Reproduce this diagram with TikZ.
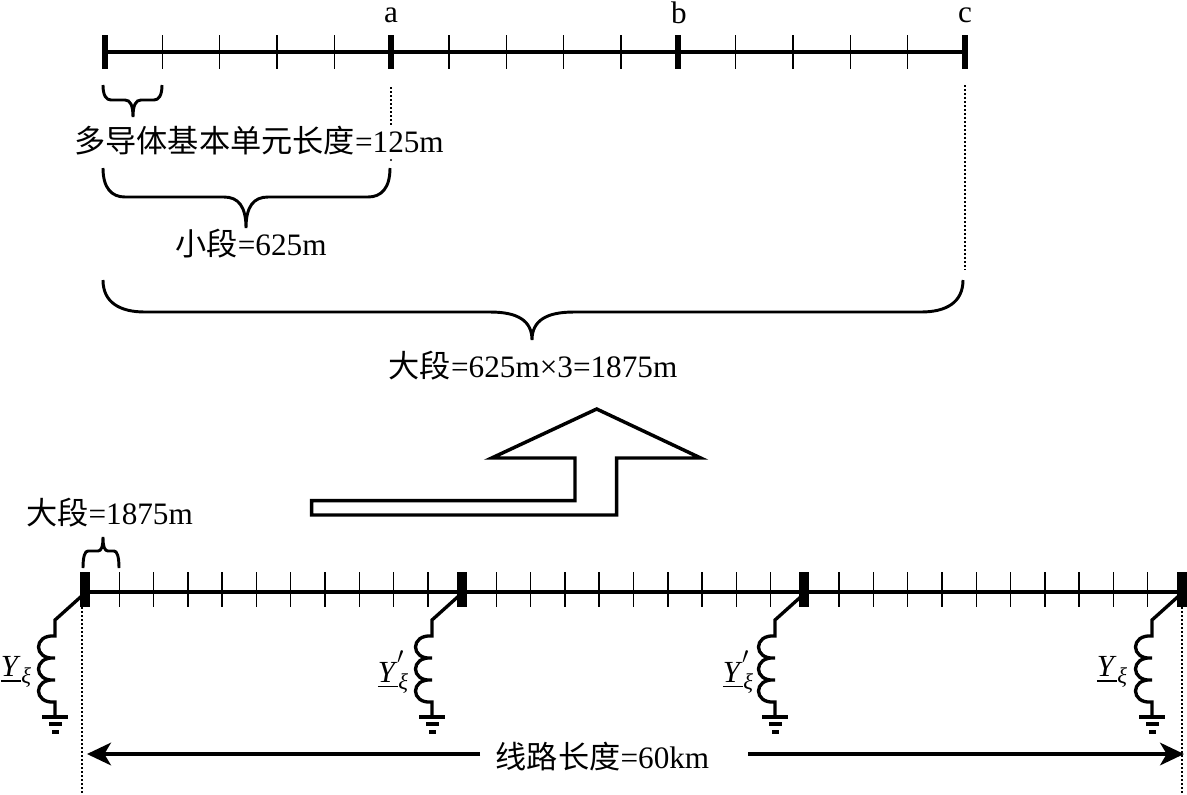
\documentclass[tikz,border=0pt]{standalone}
\usepackage{amsmath}
\usepackage{fontspec}
\setmainfont{Liberation Serif}
\newfontfamily\cjk{Noto Sans CJK SC}
\usetikzlibrary{arrows.meta}
\newcommand{\bracepath}[7]{% x1, x2, xm, ytop, ybar, ytip, corner
  \draw[bracecurve] (#1,#4) .. controls (#1,{#4+0.7*(#5-#4)}) and ({#1+0.4*#7},#5) .. ({#1+#7},#5) -- ({#3-#7},#5)
    .. controls ({#3-0.35*#7},#5) and (#3,{#5+0.3*(#6-#5)}) .. (#3,#6)
    .. controls (#3,{#5+0.3*(#6-#5)}) and ({#3+0.35*#7},#5) .. ({#3+#7},#5)
    -- ({#2-#7},#5) .. controls ({#2-0.4*#7},#5) and (#2,{#4+0.7*(#5-#4)}) .. (#2,#4);
}
\newcommand{\symY}{$\underline{\mbox{\textit{Y}}}$}
\newcommand{\symXi}{\raisebox{-5.5pt}{\fontsize{17}{18}\selectfont\kern0.5pt\textit{ξ}}}
\newcommand{\symPrime}{\rlap{\raisebox{5pt}{\fontsize{26}{26}\selectfont\kern-0.5pt$'$}}}
\tikzset{
    mainline/.style={line width=2.4pt, black},
    tickline/.style={line width=1.1pt, black},
    topbar/.style={rectangle, fill=black, inner sep=0pt, minimum width=4pt, minimum height=26pt},
    linebar/.style={rectangle, fill=black, inner sep=0pt, minimum width=7.5pt, minimum height=26pt},
    dottedline/.style={line width=1pt, dash pattern=on 1.5pt off 1.5pt, black},
    bracecurve/.style={line width=2.2pt, black},
    blockarrow/.style={line width=2.6pt, black, line join=miter},
    dimarrow/.style={-{Stealth[length=18pt, width=17pt, inset=5pt]}, line width=2.4pt, black},
    tag/.style={inner sep=0pt, font=\fontsize{23.4}{26}\selectfont},
    symtag/.style={inner sep=0pt, font=\fontsize{23}{24}\selectfont},
    branch/.pic={
      \draw[line width=2.5pt, line join=miter] (0,1) -- (-30,28) -- (-30,44)
        .. controls (-52,42) and (-52,68) .. (-30,66)
        .. controls (-52,64) and (-52,90) .. (-30,88)
        .. controls (-52,86) and (-52,112) .. (-30,110) -- (-30,125);
      \draw[line width=2.5pt] (-43,125) -- (-17,125);
      \draw[line width=2.5pt] (-36,132) -- (-23,132);
      \draw[line width=2.5pt] (-33,140) -- (-26,140);
    },
}
\begin{document}
\begin{tikzpicture}[x=0.75pt,y=-0.75pt]
\useasboundingbox (0,0) rectangle (1187,794);
% upper line
\node[topbar] (t0) at (105,52) {};
\node[topbar] (ta) at (391,52) {};
\node[topbar] (tb) at (678,52) {};
\node[topbar] (tc) at (965,52) {};
\draw[mainline] (t0) -- (ta) -- (tb) -- (tc);
\foreach \k in {1,...,14}
  \draw[tickline] ({105+57.33*\k},35) -- ({105+57.33*\k},69);
\node[tag] (la) at (391,15) {a};
\node[tag] (lb) at (679,13) {b};
\node[tag] (lc) at (965,15) {c};
\coordinate (da) at (391,87);
\coordinate (dc) at (965,85);
\draw[dottedline] (da) -- (391,125);
\draw[dottedline] (dc) -- (965,270);
\fill (391,160) circle (0.8pt);
% braces
\bracepath{103}{162}{133}{85}{100}{117}{8}
\bracepath{103}{390}{246}{168}{197}{228}{22}
\bracepath{103}{963}{532}{280}{312}{340}{42}
\bracepath{83}{119}{103}{568}{551}{537}{5}
\node[tag] (unit) at (259,141) {{\cjk 多导体基本单元长度}=125m};
\node[tag] (small) at (251,244) {{\cjk 小段}=625m};
\node[tag] (large) at (533,366) {{\cjk 大段}=625m×3=1875m};
\node[tag] (span) at (109.5,513) {{\cjk 大段}=1875m};
% block arrow
\draw[blockarrow] (311.7,500.7) -- (575,500.7) -- (575,458) -- (491.7,458) -- (596.7,409)
  -- (700.7,458) -- (616.7,458) -- (616.7,515) -- (311.7,515) -- cycle;
% lower line
\node[linebar] (n1) at (85,589.5) {};
\node[linebar] (n2) at (462,589.5) {};
\node[linebar] (n3) at (804,589.5) {};
\node[linebar] (n4) at (1182,589.5) {};
\draw[mainline] ([yshift=-1.9pt]n1.center) -- ([yshift=-1.9pt]n2.center) -- ([yshift=-1.9pt]n3.center) -- ([yshift=-1.9pt]n4.center);
\foreach \k in {1,...,31}
  \draw[tickline] ({85+34.28*\k},572) -- ({85+34.28*\k},607);
\pic at (85,592) {branch};
\pic at (462,592) {branch};
\pic at (805,592) {branch};
\pic at (1182,592) {branch};
\node[symtag] (y1) at (16,672) {\symY\symXi};
\node[symtag] (y2) at (393,672) {\symY\symPrime\symXi};
\node[symtag] (y3) at (738,672) {\symY\symPrime\symXi};
\node[symtag] (y4) at (1112,672) {\symY\symXi};
% length
\coordinate (d1) at (82,607);
\coordinate (d4) at (1182,607);
\draw[dottedline] (d1) -- (82,794);
\draw[dottedline] (d4) -- (1182,794);
\node[tag] (len) at (602.5,757) {{\cjk 线路长度}=60km};
\coordinate (lenl) at (480,754);
\coordinate (lenr) at (748,754);
\coordinate (endl) at (87,754);
\coordinate (endr) at (1184,754);
\draw[dimarrow] (lenl) -- (endl);
\draw[dimarrow] (lenr) -- (endr);
\end{tikzpicture}
\end{document}
